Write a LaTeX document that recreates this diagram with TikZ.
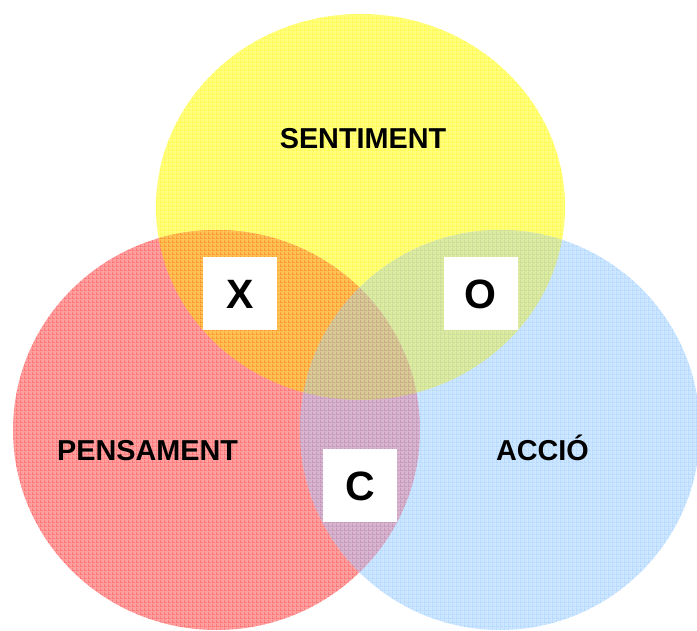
\documentclass[tikz,border=0pt]{standalone}
\usepackage{fontspec}
\setmainfont{Liberation Sans}
\usetikzlibrary{patterns.meta}

% set colours and their overlaps
\definecolor{cSent}{RGB}{255,255,125}
\definecolor{cPens}{RGB}{255,160,160}
\definecolor{cAcc}{RGB}{205,230,255}
\definecolor{cSentPens}{RGB}{255,195,85}
\definecolor{cSentAcc}{RGB}{220,235,160}
\definecolor{cPensAcc}{RGB}{215,180,208}
\definecolor{cAll}{RGB}{215,204,150}
% mesh line colours
\definecolor{mSent}{RGB}{255,240,0}
\definecolor{mPens}{RGB}{255,40,40}
\definecolor{mAcc}{RGB}{140,195,255}

% fine square mesh laid over each set
\tikzdeclarepattern{
  name=mesh,
  type=uncolored,
  bounding box={(0pt,0pt) and (4pt,4pt)},
  tile size={(4pt,4pt)},
  code={
    \pgfsetlinewidth{0.9pt}
    \pgfpathmoveto{\pgfpoint{0pt}{0.45pt}}\pgfpathlineto{\pgfpoint{4pt}{0.45pt}}
    \pgfpathmoveto{\pgfpoint{0.45pt}{0pt}}\pgfpathlineto{\pgfpoint{0.45pt}{4pt}}
    \pgfusepath{stroke}
  }
}

\tikzset{
  setlabel/.style={font=\fontsize{28.8}{28.8}\selectfont\bfseries,
    text height=20.6pt, text depth=0pt, inner sep=0pt},
  markbox/.style={fill=white, draw=none, minimum width=74pt, minimum height=73pt,
    inner sep=0pt, font=\fontsize{41}{41}\selectfont\bfseries,
    text height=29.4pt, text depth=0pt},
  meshover/.style={pattern=mesh, pattern color=#1, fill opacity=0.45}
}

\newcommand{\sentshape}{(360.5,207) ellipse [x radius=204.5pt, y radius=193pt]}
\newcommand{\pensshape}{(216.5,430) ellipse [x radius=203.5pt, y radius=200pt]}
\newcommand{\accshape}{(500,430) ellipse [x radius=200pt, y radius=200pt]}

\begin{document}
\begin{tikzpicture}[x=1pt, y=-1pt]
  \useasboundingbox (0,0) rectangle (697,631);
  \begin{scope}
    \clip (0,0) rectangle (697,631);
    % the three sets
    \fill[cSent] \sentshape;
    \fill[cPens] \pensshape;
    \fill[cAcc] \accshape;
    % pairwise overlaps
    \begin{scope}
      \clip \sentshape;
      \fill[cSentPens] \pensshape;
      \fill[cSentAcc] \accshape;
    \end{scope}
    \begin{scope}
      \clip \pensshape;
      \fill[cPensAcc] \accshape;
    \end{scope}
    % common part of all three
    \begin{scope}
      \clip \sentshape;
      \clip \pensshape;
      \fill[cAll] \accshape;
    \end{scope}
    % mesh texture of each set
    \path[meshover=mSent] \sentshape;
    \path[meshover=mPens] \pensshape;
    \path[meshover=mAcc] \accshape;
  \end{scope}

  % set names
  \node[setlabel] (sent) at (363,138) {SENTIMENT};
  \node[setlabel] (pens) at (147.5,450) {PENSAMENT};
  \node[setlabel] (acc) at (542.5,450) {ACCIÓ};

  % marked regions
  \node[markbox] (x) at (240,293.5) {X};
  \node[markbox] (o) at (480.5,293.5) {O};
  \node[markbox] (c) at (360,485.5) {C};
\end{tikzpicture}
\end{document}
